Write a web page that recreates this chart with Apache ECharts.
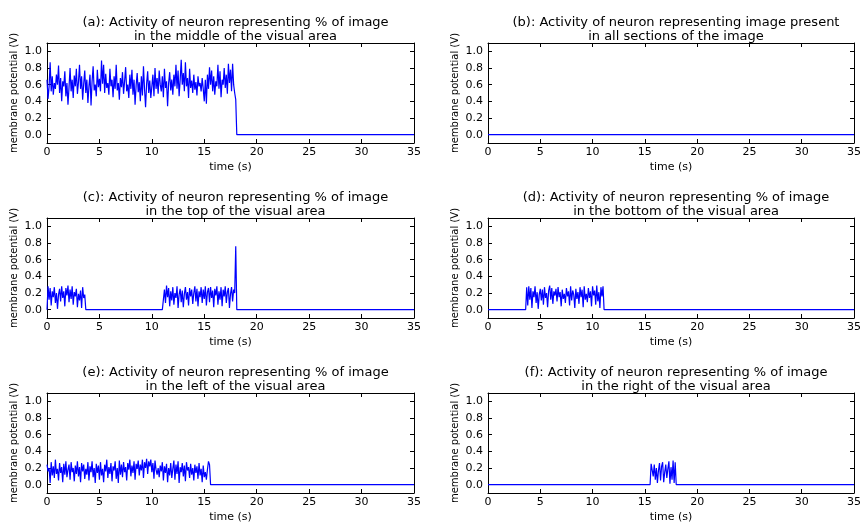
<!DOCTYPE html>
<html>
<head>
<meta charset="utf-8">
<script src="https://cdn.jsdelivr.net/npm/echarts@6/dist/echarts.min.js"></script>
<style>
  html, body { margin: 0; padding: 0; background: #fff; }
  #chart { width: 864px; height: 525px; }
</style>
</head>
<body>
<div id="chart"></div>
<script>
// Sampling step of the recorded membrane potential (seconds)
const dt = 0.1;
const tMax = 35;

const titles = [
  '(a): Activity of neuron representing % of image\nin the middle of the visual area',
  '(b): Activity of neuron representing image present\nin all sections of the image',
  '(c): Activity of neuron representing % of image\nin the top of the visual area',
  '(d): Activity of neuron representing % of image\nin the bottom of the visual area',
  '(e): Activity of neuron representing % of image\nin the left of the visual area',
  '(f): Activity of neuron representing % of image\nin the right of the visual area'
];

const yTicks = [0, 0.2, 0.4, 0.6, 0.8, 1.0];

// (a) middle: active from 0 s to ~18 s
const aStart = 0;
const aValues = [
  0.66, 0.43, 0.58, 0.87, 0.52, 0.70, 0.48, 0.62, 0.55, 0.72,
  0.60, 0.83, 0.50, 0.68, 0.40, 0.64, 0.58, 0.76, 0.46, 0.62,
  0.36, 0.57, 0.80, 0.52, 0.66, 0.44, 0.71, 0.58, 0.79, 0.49,
  0.63, 0.84, 0.55, 0.70, 0.42, 0.61, 0.77, 0.50, 0.66, 0.38,
  0.58, 0.72, 0.35, 0.64, 0.82, 0.53, 0.60, 0.46, 0.78, 0.57,
  0.67, 0.52, 0.89, 0.61, 0.84, 0.50, 0.73, 0.56, 0.62, 0.48,
  0.79, 0.58, 0.66, 0.45, 0.70, 0.55, 0.84, 0.53, 0.62, 0.42,
  0.68, 0.57, 0.75, 0.49, 0.64, 0.81, 0.52, 0.60, 0.44, 0.72,
  0.55, 0.78, 0.48, 0.66, 0.36, 0.59, 0.74, 0.51, 0.63, 0.40,
  0.70, 0.47, 0.82, 0.55, 0.33, 0.61, 0.76, 0.50, 0.65, 0.44,
  0.58, 0.72, 0.46, 0.80, 0.55, 0.68, 0.49, 0.77, 0.60, 0.52,
  0.70, 0.45, 0.79, 0.56, 0.64, 0.34, 0.62, 0.75, 0.53, 0.66,
  0.48, 0.72, 0.58, 0.84, 0.55, 0.77, 0.46, 0.66, 0.90, 0.60,
  0.74, 0.52, 0.87, 0.58, 0.68, 0.44, 0.79, 0.56, 0.65, 0.50,
  0.72, 0.54, 0.63, 0.47, 0.70, 0.58, 0.62, 0.52, 0.68, 0.55,
  0.40, 0.66, 0.37, 0.72, 0.55, 0.81, 0.60, 0.77, 0.52, 0.70,
  0.48, 0.64, 0.58, 0.84, 0.55, 0.76, 0.45, 0.66, 0.60, 0.80,
  0.56, 0.72, 0.49, 0.85, 0.62, 0.78, 0.52, 0.85, 0.60, 0.50,
  0.42, 0.00
];

// (c) top: two active windows, ending with a short spike at ~18 s
const c1Start = 0;
const c1Values = [
  0.00, 0.28, 0.12, 0.26, 0.05, 0.22, 0.15, 0.27, 0.08, 0.20,
  0.01, 0.18, 0.25, 0.10, 0.28, 0.14, 0.22, 0.04, 0.26, 0.17,
  0.29, 0.09, 0.24, 0.13, 0.28, 0.06, 0.21, 0.16, 0.25, 0.03,
  0.19, 0.11, 0.23, 0.02, 0.27, 0.14, 0.18, 0.00
];
const c2Start = 11.0;
const c2Values = [
  0.00, 0.12, 0.24, 0.08, 0.29, 0.15, 0.26, 0.04, 0.22, 0.11,
  0.27, 0.06, 0.20, 0.14, 0.28, 0.02, 0.18, 0.25, 0.09, 0.23,
  0.03, 0.19, 0.27, 0.12, 0.21, 0.05, 0.26, 0.16, 0.24, 0.07,
  0.20, 0.28, 0.10, 0.25, 0.04, 0.22, 0.15, 0.27, 0.08, 0.24,
  0.13, 0.28, 0.05, 0.21, 0.26, 0.09, 0.27, 0.14, 0.23, 0.03,
  0.25, 0.17, 0.28, 0.06, 0.22, 0.12, 0.27, 0.04, 0.24, 0.16,
  0.28, 0.08, 0.21, 0.26, 0.02, 0.19, 0.27, 0.10, 0.24, 0.20,
  0.76, 0.00
];

// (d) bottom: active from ~3.6 s to ~11 s
const dStart = 3.6;
const dValues = [
  0.00, 0.27, 0.05, 0.28, 0.12, 0.26, 0.02, 0.22, 0.15, 0.28,
  0.08, 0.21, 0.01, 0.18, 0.25, 0.11, 0.24, 0.06, 0.27, 0.14,
  0.20, 0.03, 0.23, 0.29, 0.12, 0.26, 0.07, 0.22, 0.17, 0.25,
  0.10, 0.27, 0.15, 0.21, 0.04, 0.24, 0.13, 0.19, 0.08, 0.26,
  0.16, 0.22, 0.05, 0.28, 0.11, 0.23, 0.18, 0.02, 0.25, 0.13,
  0.21, 0.07, 0.27, 0.15, 0.24, 0.03, 0.28, 0.12, 0.19, 0.09,
  0.26, 0.14, 0.22, 0.04, 0.28, 0.17, 0.23, 0.06, 0.29, 0.10,
  0.21, 0.02, 0.27, 0.16, 0.28, 0.00
];

// (e) left: active from 0 s to ~15.6 s
const eStart = 0;
const eValues = [
  0.24, 0.16, 0.20, 0.02, 0.27, 0.11, 0.22, 0.08, 0.30, 0.13,
  0.19, 0.05, 0.26, 0.14, 0.21, 0.03, 0.25, 0.12, 0.28, 0.09,
  0.18, 0.24, 0.06, 0.27, 0.15, 0.20, 0.04, 0.23, 0.13, 0.28,
  0.10, 0.21, 0.03, 0.26, 0.16, 0.24, 0.07, 0.19, 0.12, 0.27,
  0.05, 0.22, 0.15, 0.28, 0.09, 0.20, 0.02, 0.25, 0.14, 0.23,
  0.06, 0.27, 0.11, 0.19, 0.03, 0.24, 0.16, 0.30, 0.08, 0.21,
  0.13, 0.26, 0.04, 0.22, 0.17, 0.28, 0.07, 0.20, 0.02, 0.29,
  0.12, 0.24, 0.09, 0.27, 0.15, 0.21, 0.05, 0.26, 0.18, 0.30,
  0.10, 0.23, 0.14, 0.28, 0.06, 0.25, 0.19, 0.29, 0.11, 0.24,
  0.17, 0.30, 0.08, 0.27, 0.20, 0.31, 0.13, 0.28, 0.22, 0.30,
  0.15, 0.26, 0.07, 0.29, 0.18, 0.12, 0.20, 0.09, 0.23, 0.16,
  0.27, 0.05, 0.22, 0.14, 0.25, 0.03, 0.20, 0.11, 0.26, 0.08,
  0.19, 0.29, 0.06, 0.24, 0.13, 0.28, 0.02, 0.21, 0.15, 0.26,
  0.10, 0.23, 0.04, 0.27, 0.17, 0.21, 0.08, 0.25, 0.12, 0.20,
  0.05, 0.24, 0.14, 0.22, 0.07, 0.26, 0.11, 0.19, 0.03, 0.23,
  0.09, 0.15, 0.06, 0.18, 0.28, 0.24, 0.00
];

// (f) right: active from ~15.5 s to ~18 s
const fStart = 15.5;
const fValues = [
  0.00, 0.25, 0.27, 0.10, 0.24, 0.06, 0.20, 0.02, 0.17, 0.26,
  0.05, 0.22, 0.27, 0.03, 0.15, 0.24, 0.08, 0.19, 0.28, 0.01,
  0.21, 0.06, 0.29, 0.02, 0.27, 0.00
];

// Active windows per panel; the potential rests at 0 V outside them
const bursts = [
  [[aStart, aValues]],
  [],
  [[c1Start, c1Values], [c2Start, c2Values]],
  [[dStart, dValues]],
  [[eStart, eValues]],
  [[fStart, fValues]]
];

function trace(windows) {
  const pts = [];
  if (!windows.length || windows[0][0] > 0) pts.push([0, 0]);
  windows.forEach(([start, vals]) => {
    vals.forEach((v, i) => pts.push([Math.round((start + i * dt) * 100) / 100, v]));
  });
  pts.push([tMax, 0]);
  return pts;
}

const colLeft = [47, 488];
const colWidth = [367, 366];
const rowTop = [43, 218, 393];
const plotHeight = 100;
const font = 'DejaVu Sans';

const grid = [], xAxis = [], yAxis = [], series = [], title = [];
const axisLine = { show: true, onZero: false, lineStyle: { color: '#000', width: 1 } };
const tick = { show: true, inside: true, length: 4, lineStyle: { color: '#000', width: 1 } };

for (let i = 0; i < 6; i++) {
  const col = i % 2, row = Math.floor(i / 2);
  grid.push({ left: colLeft[col], top: rowTop[row], width: colWidth[col], height: plotHeight, containLabel: false });
  title.push({
    text: titles[i],
    left: colLeft[col] + colWidth[col] / 2,
    top: rowTop[row] - 32,
    textAlign: 'center',
    textStyle: { fontFamily: font, fontSize: 13, fontWeight: 'normal', color: '#000', lineHeight: 13.5 }
  });
  xAxis.push({
    type: 'value', gridIndex: i, min: 0, max: tMax, interval: 5, position: 'bottom',
    axisLine, axisTick: tick, splitLine: { show: false },
    axisLabel: { fontFamily: font, fontSize: 11, color: '#000', margin: 4 },
    name: 'time (s)', nameLocation: 'middle', nameGap: 19,
    nameTextStyle: { fontFamily: font, fontSize: 11, color: '#000' }
  });
  xAxis.push({
    type: 'value', gridIndex: i, min: 0, max: tMax, interval: 5, position: 'top',
    axisLine, axisTick: tick, splitLine: { show: false }, axisLabel: { show: false }
  });
  yAxis.push({
    type: 'value', gridIndex: i, min: -0.1, max: 1.1, position: 'left',
    axisLine, axisTick: Object.assign({ customValues: yTicks }, tick), splitLine: { show: false },
    axisLabel: { customValues: yTicks, formatter: v => v.toFixed(1), fontFamily: font, fontSize: 11, color: '#000', margin: 5 },
    name: 'membrane potential (V)', nameLocation: 'middle', nameGap: 28, nameRotate: 90,
    nameTextStyle: { fontFamily: font, fontSize: 10, color: '#000' }
  });
  yAxis.push({
    type: 'value', gridIndex: i, min: -0.1, max: 1.1, position: 'right',
    axisLine, axisTick: Object.assign({ customValues: yTicks }, tick), splitLine: { show: false },
    axisLabel: { show: false }
  });
  series.push({
    type: 'line', xAxisIndex: 2 * i, yAxisIndex: 2 * i,
    showSymbol: false, symbol: 'none',
    lineStyle: { color: '#0000ff', width: 1.2 },
    data: trace(bursts[i])
  });
}

const chart = echarts.init(document.getElementById('chart'), null, { renderer: 'canvas' });
chart.setOption({ animation: false, backgroundColor: '#fff', title, grid, xAxis, yAxis, series });
</script>
</body>
</html>
